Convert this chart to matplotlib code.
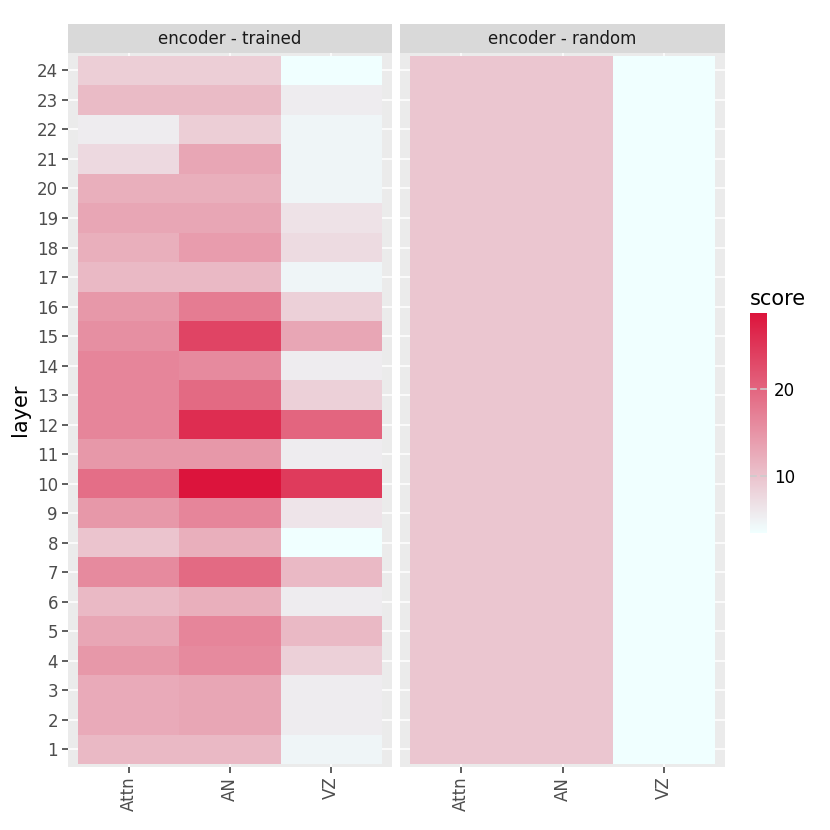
import numpy as np
import matplotlib
matplotlib.use("Agg")
import matplotlib.pyplot as plt
from matplotlib.colors import LinearSegmentedColormap, Normalize
import matplotlib.cm as cm

# ---------------- data ----------------
conditions = ["Attn", "AN", "VZ"]
layers = list(range(1, 25))
panels = ["encoder - trained", "encoder - random"]

# scores per layer (1..24) for trained encoder
trained_attn = [11.0, 12.5, 12.5, 14.5, 13.0, 11.0, 16.0, 9.8, 14.5, 19.0, 14.5, 16.5,
                16.5, 16.5, 15.5, 14.5, 11.0, 12.0, 13.0, 12.0, 7.5, 5.5, 10.8, 8.7]
trained_an = [11.0, 13.0, 13.0, 16.0, 16.5, 12.0, 19.5, 12.0, 16.5, 28.7, 14.5, 26.0,
              19.5, 16.0, 23.5, 17.5, 11.0, 14.0, 13.0, 12.0, 13.0, 8.7, 10.8, 8.7]
trained_vz = [4.5, 5.5, 5.5, 8.5, 11.0, 5.5, 11.0, 3.4, 6.3, 24.5, 5.5, 20.0,
              8.5, 5.5, 13.0, 8.5, 4.5, 7.3, 6.5, 4.5, 4.5, 4.5, 5.5, 3.4]
# random encoder: constant across layers
random_attn = [9.6] * 24
random_an = [9.6] * 24
random_vz = [3.4] * 24

score_min, score_max = 3.4, 28.7
cbar_ticks = [10, 20]

cmap = LinearSegmentedColormap.from_list("azure_crimson", ["azure", "crimson"])
norm = Normalize(vmin=score_min, vmax=score_max)

# ---------------- figure ----------------
W = H = 830
fig = plt.figure(figsize=(8.3, 8.3), dpi=100)
fig.patch.set_facecolor("white")

def fr(x0, y0, x1, y1):
    return [x0 / W, 1 - y1 / H, (x1 - x0) / W, (y1 - y0) / H]

panel_boxes = [(67.7, 52.7, 392, 767), (400, 52.7, 725, 767)]
strip_top = 24.3
data_sets = [
    np.array([trained_attn, trained_an, trained_vz]).T,
    np.array([random_attn, random_an, random_vz]).T,
]

for i, (box, title, Z) in enumerate(zip(panel_boxes, panels, data_sets)):
    ax = fig.add_axes(fr(*box))
    ax.set_facecolor("#EBEBEB")
    for s in ax.spines.values():
        s.set_visible(False)
    ax.set_axisbelow(True)
    for x in range(1, 4):
        ax.axvline(x, color="white", lw=1.1, zorder=0)
    for y in layers:
        ax.axhline(y, color="white", lw=1.1, zorder=0)
    ax.pcolormesh(np.arange(0.5, 4.0, 1.0), np.arange(0.5, 25.0, 1.0), Z,
                  cmap=cmap, norm=norm, zorder=1, edgecolors="none")
    ax.set_xlim(0.4, 3.6)
    ax.set_ylim(0.4, 24.6)
    ax.set_xticks([1, 2, 3])
    ax.set_xticklabels(conditions, rotation=90, color="#4D4D4D", fontsize=12)
    ax.set_yticks(layers)
    if i == 0:
        ax.set_yticklabels([str(l) for l in layers], color="#4D4D4D", fontsize=12)
        ax.set_ylabel("layer", fontsize=15, labelpad=5)
    else:
        ax.set_yticklabels([])
    ax.tick_params(axis="both", color="#333333", width=1.1, length=4, pad=3)
    if i == 1:
        ax.tick_params(axis="y", length=0)
    # strip
    sax = fig.add_axes(fr(box[0], strip_top, box[2], box[1]))
    sax.set_facecolor("#D9D9D9")
    sax.set_xticks([]); sax.set_yticks([])
    for s in sax.spines.values():
        s.set_visible(False)
    sax.text(0.5, 0.5, title, ha="center", va="center", fontsize=12,
             color="#1A1A1A", transform=sax.transAxes)

# colorbar
cax = fig.add_axes(fr(750, 313, 767, 533))
cb = fig.colorbar(cm.ScalarMappable(norm=norm, cmap=cmap), cax=cax)
cb.outline.set_visible(False)
cb.set_ticks(cbar_ticks)
cb.ax.tick_params(length=0, labelsize=12, pad=5)
for t in cbar_ticks:
    cax.plot([0, 0.35], [t, t], color="#CCCCCC", lw=1.2, transform=cax.get_yaxis_transform())
    cax.plot([0.65, 1.0], [t, t], color="#CCCCCC", lw=1.2, transform=cax.get_yaxis_transform())
fig.text(750 / W, 1 - 299 / H, "score", fontsize=15, ha="left", va="center")

fig.savefig("out.png", dpi=100)
